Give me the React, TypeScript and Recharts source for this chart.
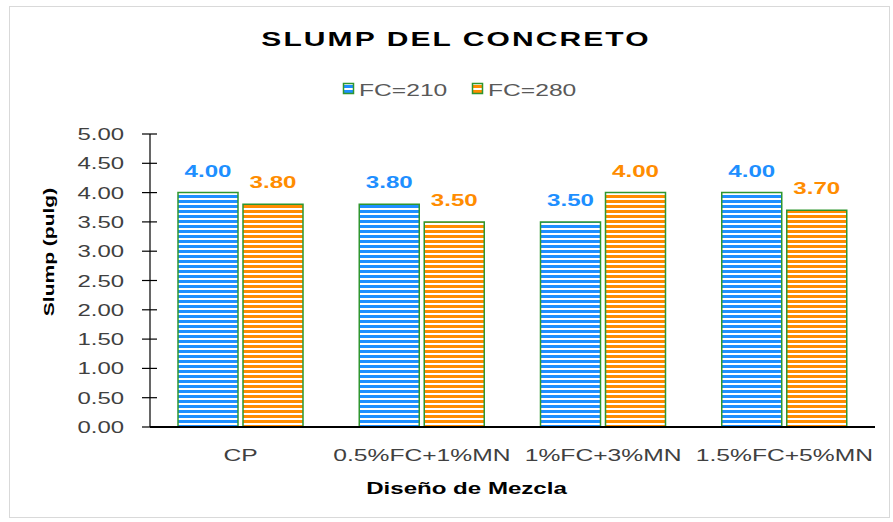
import React from 'react';
import { BarChart, Bar, XAxis, YAxis, LabelList } from 'recharts';

const categories = ['CP', '0.5%FC+1%MN', '1%FC+3%MN', '1.5%FC+5%MN'];
const fc210 = [4.0, 3.8, 3.5, 4.0];
const fc280 = [3.8, 3.5, 4.0, 3.7];
const yTicks = [0, 0.5, 1, 1.5, 2, 2.5, 3, 3.5, 4, 4.5, 5];
const seriesNames = ['FC=210', 'FC=280'];
const chartTitle = 'SLUMP DEL CONCRETO';
const xTitle = 'Diseño de Mezcla';
const yTitle = 'Slump (pulg)';

const data = categories.map((name, i) => ({ name, a: fc210[i], b: fc280[i] }));

const FONT = '"Liberation Sans", Arial, sans-serif';
const SX = 1.5;
const BLUE = '#1E8FFF';
const ORANGE = '#FF8C00';
const GREEN = '#2F962F';

type WTProps = {
  x: number;
  y: number;
  size: number;
  weight?: string | number;
  fill?: string;
  anchor?: 'start' | 'middle' | 'end';
  rotate?: number;
  spacing?: number;
  sx?: number;
  children: React.ReactNode;
};

function WideText({ x, y, size, weight = 'normal', fill = '#000', anchor = 'middle', rotate = 0, spacing = 0, sx = SX, children }: WTProps) {
  return (
    <g transform={`translate(${x},${y}) rotate(${rotate}) scale(${sx},1)`}>
      <text x={0} y={0} textAnchor={anchor} fontSize={size} fontWeight={weight} fill={fill} fontFamily={FONT} letterSpacing={spacing}>
        {children}
      </text>
    </g>
  );
}

function YTick(props: any) {
  const { x, y, payload } = props;
  return (
    <g>
      <line x1={x - 8} x2={x + 7} y1={y} y2={y} stroke="#000" strokeWidth={1.2} />
      <WideText x={x - 26} y={y + 6} size={16.5} sx={1.45} anchor="end" fill="#404040">
        {Number(payload.value).toFixed(2)}
      </WideText>
    </g>
  );
}

function XTick(props: any) {
  const { x, y, payload } = props;
  return (
    <WideText x={x} y={y + 33.5} size={17} sx={1.45} fill="#404040">
      {payload.value}
    </WideText>
  );
}

function makeLabel(color: string) {
  return (props: any) => {
    const { x, y, width, value } = props;
    return (
      <WideText x={Number(x) + Number(width) / 2} y={Number(y) - 16} size={17} sx={1.42} weight="bold" fill={color}>
        {Number(value).toFixed(2)}
      </WideText>
    );
  };
}

export default function App() {
  return (
    <div style={{ position: 'absolute', left: 0, top: 0, width: 893, height: 522, background: '#fff' }}>
      <svg width={893} height={522} style={{ position: 'absolute', left: 0, top: 0 }}>
        <defs>
          <pattern id="stripeBlue" patternUnits="userSpaceOnUse" width={8} height={5}>
            <rect width={8} height={5} fill="#fff" />
            <rect width={8} height={3} fill={BLUE} />
          </pattern>
          <pattern id="stripeOrange" patternUnits="userSpaceOnUse" width={8} height={5}>
            <rect width={8} height={5} fill="#fff" />
            <rect width={8} height={3} fill={ORANGE} />
          </pattern>
        </defs>
        <rect x={9.5} y={6.5} width={880} height={511} fill="#fff" stroke="#d9d9d9" strokeWidth={1} />
      </svg>
      <div style={{ position: 'absolute', left: 0, top: 0 }}>
        <BarChart
          width={893}
          height={522}
          data={data}
          margin={{ top: 134, right: 18, bottom: 0, left: 0 }}
          barCategoryGap={28}
          barGap={5}
        >
          <XAxis
            dataKey="name"
            height={95}
            axisLine={{ stroke: '#000', strokeWidth: 2 }}
            tickLine={false}
            tickSize={0}
            tickMargin={0}
            tick={<XTick />}
            interval={0}
          />
          <YAxis
            width={150}
            domain={[0, 5]}
            ticks={yTicks}
            axisLine={{ stroke: '#000', strokeWidth: 1.2 }}
            tickLine={false}
            tickSize={0}
            tickMargin={0}
            tick={<YTick />}
            interval={0}
          />
          <Bar dataKey="a" name={seriesNames[0]} fill="url(#stripeBlue)" stroke={GREEN} strokeWidth={1.5} isAnimationActive={false}>
            <LabelList dataKey="a" content={makeLabel(BLUE)} />
          </Bar>
          <Bar dataKey="b" name={seriesNames[1]} fill="url(#stripeOrange)" stroke={GREEN} strokeWidth={1.5} isAnimationActive={false}>
            <LabelList dataKey="b" content={makeLabel(ORANGE)} />
          </Bar>
        </BarChart>
      </div>
      <svg width={893} height={522} style={{ position: 'absolute', left: 0, top: 0, pointerEvents: 'none' }}>
        <WideText x={456} y={46} size={20} weight="bold" spacing={1.4}>
          {chartTitle}
        </WideText>
        <rect x={343.5} y={83.5} width={10} height={10} fill="url(#stripeBlue)" stroke={GREEN} strokeWidth={1.5} />
        <WideText x={359} y={95.5} size={17} sx={1.45} anchor="start" fill="#595959">
          {seriesNames[0]}
        </WideText>
        <rect x={472.5} y={83.5} width={10} height={10} fill="url(#stripeOrange)" stroke={GREEN} strokeWidth={1.5} />
        <WideText x={488} y={95.5} size={17} sx={1.45} anchor="start" fill="#595959">
          {seriesNames[1]}
        </WideText>
        <WideText x={466.5} y={494} size={16.5} sx={1.46} weight="bold">
          {xTitle}
        </WideText>
        <WideText x={53.5} y={252} size={14.5} sx={1.45} weight="bold" rotate={-90}>
          {yTitle}
        </WideText>
      </svg>
    </div>
  );
}
